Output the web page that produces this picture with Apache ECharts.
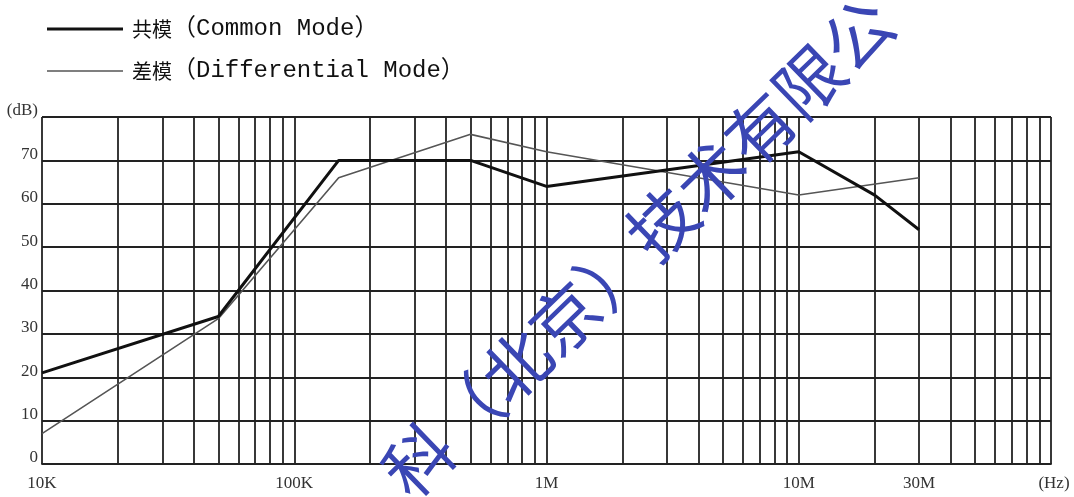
<!DOCTYPE html>
<html>
<head>
<meta charset="utf-8">
<script src="https://cdn.jsdelivr.net/npm/echarts@6/dist/echarts.min.js"></script>
<style>
html,body{margin:0;padding:0;background:#fff;}
#c{width:1074px;height:497px;}
</style>
</head>
<body>
<div id="c"></div>
<script>
// ---- data (frequency in Hz, level in dB) ----
const commonFreq = [1e4, 5e4, 1.5e5, 5e5, 1e6, 1e7, 2e7, 3e7];
const commonDb   = [21, 34, 70, 70, 64, 72, 62, 54];
const diffFreq   = [1e4, 5e4, 1.5e5, 5e5, 1e6, 1e7, 3e7];
const diffDb     = [7, 33.5, 66, 76, 72, 62, 66];
const seriesNames = ['共模（Common Mode）', '差模（Differential Mode）'];
const xLabelValues = [1e4, 1e5, 1e6, 1e7, 3e7];
const xLabelTexts  = ['10K', '100K', '1M', '10M', '30M'];
const yTopLabel = '(dB)';
const watermark = '科（北京）技术有限公';

// grid lines at 1..9 x 10^n
const gridFreqs = [];
for (let e = 4; e < 8; e++) for (let k = 1; k < 10; k++) gridFreqs.push(k * Math.pow(10, e));
gridFreqs.push(1e8);

const pair = (xs, ys) => xs.map((x, i) => [x, ys[i]]);
const gridLine = { color: '#222', width: 1.8 };

const chart = echarts.init(document.getElementById('c'), null, { renderer: 'canvas' });
chart.setOption({
  animation: false,
  backgroundColor: '#fff',
  grid: { left: 42, right: 23, top: 117, bottom: 33, containLabel: false },
  legend: {
    orient: 'vertical', left: 42, top: 12,
    itemWidth: 76, itemHeight: 14, itemGap: 18,
    symbolKeepAspect: true,
    textStyle: {
      color: '#111', fontSize: 24, lineHeight: 24, padding: [0, 0, 0, 4],
      fontFamily: '"Liberation Mono", "Noto Sans CJK SC", monospace',
      rich: {
        c: { fontSize: 20, fontFamily: '"Noto Sans CJK SC"', color: '#111' },
        m: { fontSize: 24, fontFamily: '"Liberation Mono", "Noto Sans CJK SC", monospace', color: '#111' }
      }
    },
    formatter: name => '{c|' + name.slice(0, 2) + '}{m|' + name.slice(2) + '}',
    data: [
      { name: seriesNames[0], icon: 'path://M0,0H76V3H0Z' },
      { name: seriesNames[1], icon: 'path://M0,0H76V1.5H0Z' }
    ]
  },
  xAxis: {
    type: 'log', logBase: 10, min: 1e4, max: 1e8,
    name: '(Hz)', nameLocation: 'end', nameGap: 3,
    nameTextStyle: { align: 'center', verticalAlign: 'top', padding: [11, 0, 0, 0], color: '#333', fontSize: 17, fontFamily: '"Liberation Serif", serif' },
    axisLine: { show: true, lineStyle: gridLine },
    axisTick: { show: false, customValues: gridFreqs },
    splitLine: { show: true, lineStyle: gridLine },
    axisLabel: {
      customValues: xLabelValues,
      formatter: v => { const i = xLabelValues.findIndex(t => Math.abs(t - v) / t < 1e-6); return i >= 0 ? xLabelTexts[i] : ''; },
      color: '#333', fontSize: 17, fontFamily: '"Liberation Serif", serif', margin: 11
    }
  },
  yAxis: {
    type: 'value', min: 0, max: 80, interval: 10,
    axisLine: { show: false }, axisTick: { show: false },
    splitLine: { show: true, lineStyle: gridLine },
    axisLabel: {
      formatter: v => v === 80 ? yTopLabel : String(v),
      color: '#333', fontSize: 17, fontFamily: '"Liberation Serif", serif',
      margin: 4, verticalAlign: 'bottom', lineHeight: 12
    }
  },
  series: [
    { name: seriesNames[0], type: 'line', data: pair(commonFreq, commonDb), symbol: 'none',
      lineStyle: { color: '#111', width: 3 }, itemStyle: { color: '#111' }, z: 3 },
    { name: seriesNames[1], type: 'line', data: pair(diffFreq, diffDb), symbol: 'none',
      lineStyle: { color: '#555', width: 1.6 }, itemStyle: { color: '#555' }, z: 2 }
  ],
  graphic: [{
    type: 'text', x: 638, y: 247, rotation: 0.77, z: 100,
    style: { text: watermark, fill: '#3a46b4', font: '68px "Noto Sans CJK SC"', align: 'center', verticalAlign: 'middle' }
  }]
});
</script>
</body>
</html>
